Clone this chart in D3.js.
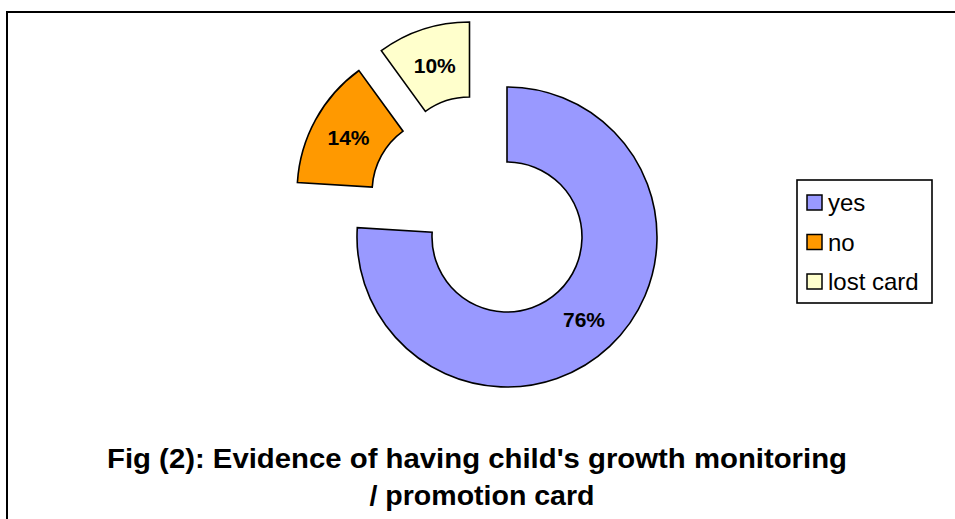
<!DOCTYPE html>
<html>
<head>
<meta charset="utf-8">
<script src="https://cdn.jsdelivr.net/npm/d3@7/dist/d3.min.js"></script>
<style>
  html, body { margin: 0; padding: 0; background: #ffffff; }
  svg { display: block; }
</style>
</head>
<body>
<svg id="chart" width="955" height="519"></svg>
<script>
// Survey answers and their shares (percent)
const categories = ["yes", "no", "lost card"];
const shares = [76, 14, 10];
const shareLabels = ["76%", "14%", "10%"];
const titleLines = [
  "Fig (2): Evidence of having child's growth monitoring",
  "/ promotion card"
];

// Styling and layout
const colors = { "yes": "#9999ff", "no": "#ff9900", "lost card": "#ffffcc" };
// Pulled-out slices: distance and direction (degrees clockwise from 12 o'clock)
const explode = {
  "no": { dist: 75, angle: 307 },
  "lost card": { dist: 75, angle: 330 }
};
const center = { x: 507, y: 237 };
const innerR = 75, outerR = 150;
// Caption line placement: centre x and rendered width
const titleLayout = [
  { cx: 477, width: 740 },
  { cx: 482, width: 225 }
];

const svg = d3.select("#chart");

// Outer chart frame (only top and left edges fall inside the view)
svg.append("rect")
  .attr("x", 7).attr("y", 12)
  .attr("width", 1000).attr("height", 600)
  .attr("fill", "#ffffff")
  .attr("stroke", "#000000")
  .attr("stroke-width", 2);

const data = categories.map((c, i) => ({ category: c, value: shares[i], label: shareLabels[i] }));

const pie = d3.pie()
  .sort(null)
  .value(d => d.value)
  .startAngle(0)
  .endAngle(2 * Math.PI);

const arc = d3.arc().innerRadius(innerR).outerRadius(outerR);

function offsetOf(cat) {
  const e = explode[cat];
  if (!e) return [0, 0];
  const a = e.angle * Math.PI / 180;
  return [e.dist * Math.sin(a), -e.dist * Math.cos(a)];
}

const g = svg.append("g").attr("transform", `translate(${center.x},${center.y})`);

const slices = g.selectAll("g.slice")
  .data(pie(data))
  .join("g")
  .attr("class", "slice")
  .attr("transform", d => {
    const [dx, dy] = offsetOf(d.data.category);
    return `translate(${dx},${dy})`;
  });

slices.append("path")
  .attr("d", arc)
  .attr("fill", d => colors[d.data.category])
  .attr("stroke", "#000000")
  .attr("stroke-width", 1.6)
  .attr("stroke-linejoin", "miter");

slices.append("text")
  .attr("transform", d => `translate(${arc.centroid(d)})`)
  .attr("text-anchor", "middle")
  .attr("dominant-baseline", "central")
  .attr("font-family", "Liberation Sans, Arial, sans-serif")
  .attr("font-weight", "bold")
  .attr("font-size", 21)
  .attr("fill", "#000000")
  .text(d => d.data.label);

// Legend
const legend = svg.append("g");
legend.append("rect")
  .attr("x", 797).attr("y", 180)
  .attr("width", 135).attr("height", 123)
  .attr("fill", "#ffffff")
  .attr("stroke", "#000000")
  .attr("stroke-width", 1.6);

const rowY = d3.scalePoint().domain(categories).range([203, 282]);

const rows = legend.selectAll("g.row")
  .data(categories)
  .join("g")
  .attr("class", "row")
  .attr("transform", c => `translate(0,${rowY(c)})`);

rows.append("rect")
  .attr("x", 807).attr("y", -8)
  .attr("width", 15).attr("height", 15)
  .attr("fill", c => colors[c])
  .attr("stroke", "#000000")
  .attr("stroke-width", 1.5);

rows.append("text")
  .attr("x", 828).attr("y", 8)
  .attr("font-family", "Liberation Sans, Arial, sans-serif")
  .attr("font-size", 24)
  .attr("fill", "#000000")
  .text(c => c);

// Caption
svg.append("g")
  .selectAll("text")
  .data(titleLines)
  .join("text")
  .attr("x", (d, i) => titleLayout[i].cx)
  .attr("y", (d, i) => 468 + i * 37)
  .attr("text-anchor", "middle")
  .attr("textLength", (d, i) => titleLayout[i].width)
  .attr("lengthAdjust", "spacingAndGlyphs")
  .attr("font-family", "Liberation Sans, Arial, sans-serif")
  .attr("font-weight", "bold")
  .attr("font-size", 28)
  .attr("fill", "#000000")
  .text(d => d);
</script>
</body>
</html>
